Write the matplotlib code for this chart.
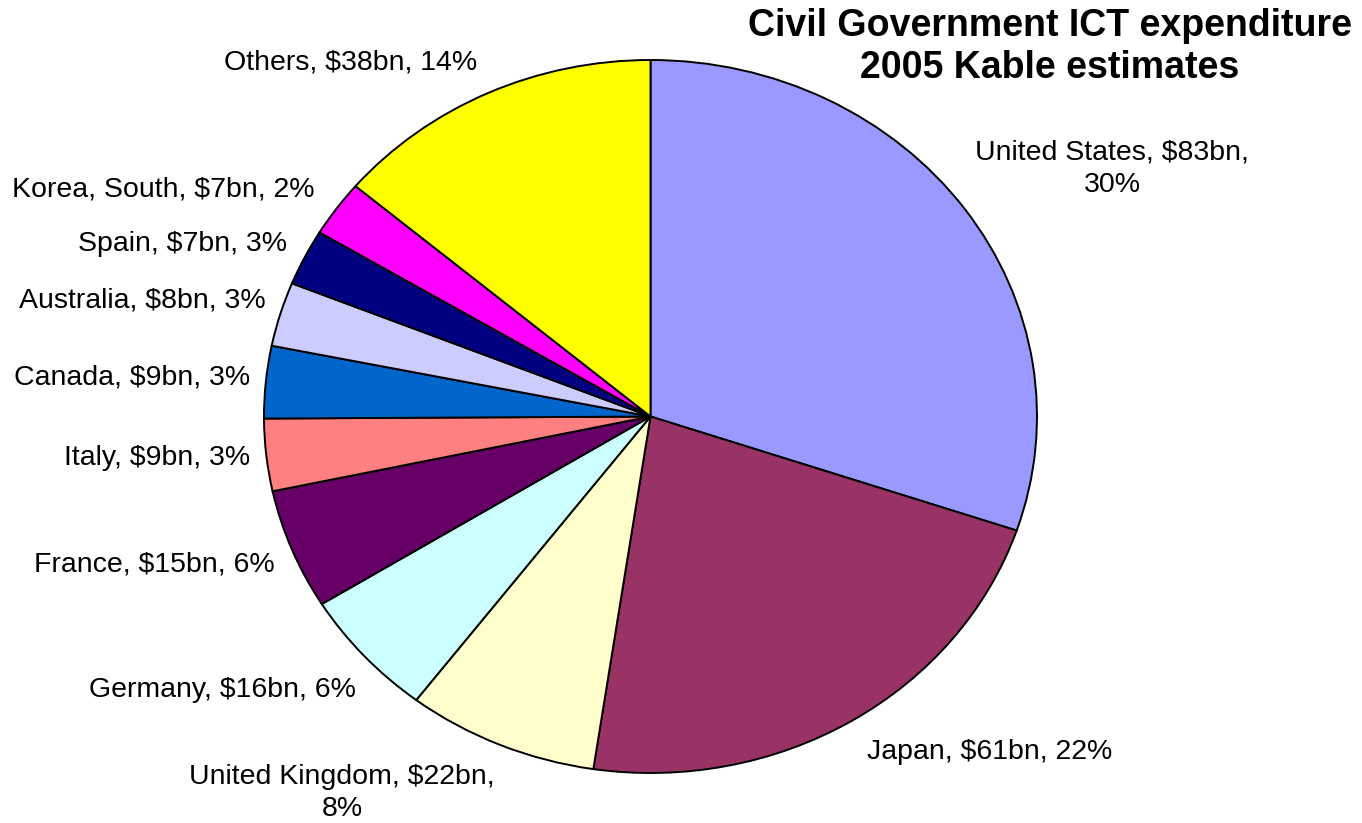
import numpy as np
import matplotlib
matplotlib.use("Agg")
import matplotlib.pyplot as plt

plt.rcParams['font.family'] = ['Liberation Sans', 'DejaVu Sans']

# Data (USD bn, Kable 2005 estimates)
countries = ['United States', 'Japan', 'United Kingdom', 'Germany', 'France',
             'Italy', 'Canada', 'Australia', 'Spain', 'Korea, South', 'Others']
spend_bn = [83, 61, 22, 16, 15, 9, 9, 8, 7, 7, 38]
shares = ['30%', '22%', '8%', '6%', '6%', '3%', '3%', '3%', '3%', '2%', '14%']
colors = ['#9999FF', '#993366', '#FFFFCC', '#CCFFFF', '#660066', '#FF8080',
          '#0066CC', '#CCCCFF', '#000080', '#FF00FF', '#FFFF00']

# label layout: line break before the share? and offset from slice edge (pixels)
wrap = [True, False, True, False, False, False, False, False, False, False, False]
offsets = [(11, 40), (15, -31), (-5, -48), (-8, -34), (-17, -15), (-16, -3),
           (-16, 4), (-15, 14), (-18, 13), (-22, 19), (-11, 31)]

W, H = 1362, 823
rx, ry = 386.5, 356.5      # the pie is a little wider than tall
cx, cy = 650.5, 416.5      # centre in pixels (from top-left)

fig = plt.figure(figsize=(W / 100, H / 100), dpi=100)
ax = fig.add_axes([0, 0, 1, 1])

centre = (cx / rx, (H - cy) / ry)
wedges, _ = ax.pie(spend_bn, colors=colors, startangle=90, counterclock=False,
                   center=centre, radius=1.0,
                   wedgeprops=dict(edgecolor='black', linewidth=1.4))
ax.set_aspect('auto')
ax.set_xlim(0, W / rx)
ax.set_ylim(0, H / ry)
ax.axis('off')

for w, name, val, pct, wr, off in zip(wedges, countries, spend_bn, shares, wrap, offsets):
    mid = np.deg2rad((w.theta1 + w.theta2) / 2)
    px = centre[0] + np.cos(mid)
    py = centre[1] + np.sin(mid)
    sep = '\n' if wr else ' '
    txt = f'{name}, ${val}bn,{sep}{pct}'
    ha = 'left' if np.cos(mid) > 0 else 'right'
    ax.annotate(txt, xy=(px, py), xytext=off, textcoords='offset pixels',
                ha=ha, va='center', multialignment='center', fontsize=20.5,
                linespacing=1.3)

fig.text(1050 / W, 1 - 47 / H, 'Civil Government ICT expenditure\n2005 Kable estimates',
         ha='center', va='center', multialignment='center',
         fontsize=27, fontweight='bold', linespacing=1.25)

fig.savefig('out.png', dpi=100, facecolor='white')
